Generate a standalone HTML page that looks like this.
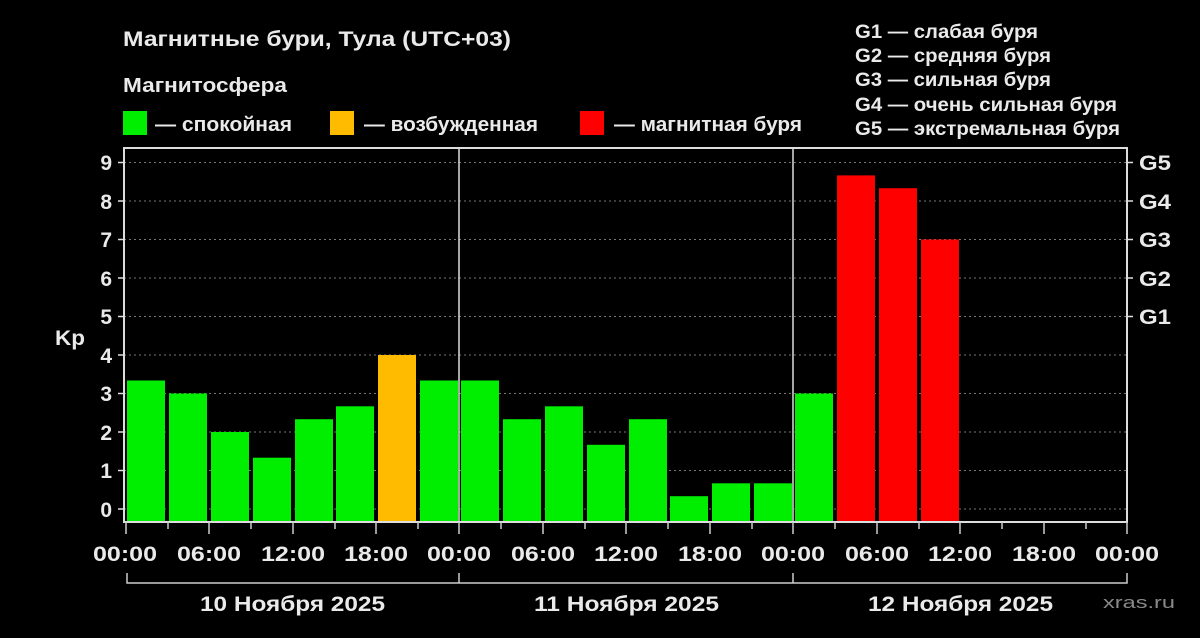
<!DOCTYPE html>
<html><head><meta charset="utf-8"><style>
html,body{margin:0;padding:0;background:#000;}
svg{display:block}
text{font-family:"Liberation Sans",Arial,sans-serif;font-weight:bold;fill:#eaeaea}
</style></head><body>
<svg width="1200" height="638" viewBox="0 0 1200 638">
<rect width="1200" height="638" fill="#000"/>
<text x="123" y="46" font-size="21" textLength="388" lengthAdjust="spacingAndGlyphs">Магнитные бури, Тула (UTC+03)</text>
<text x="123" y="92" font-size="20" textLength="164" lengthAdjust="spacingAndGlyphs">Магнитосфера</text>
<rect x="123" y="111" width="24" height="24" fill="#00ee00"/>
<text x="155" y="131" font-size="20" textLength="137" lengthAdjust="spacingAndGlyphs">— спокойная</text>
<rect x="330" y="111" width="24" height="24" fill="#ffbb00"/>
<text x="364" y="131" font-size="20" textLength="174" lengthAdjust="spacingAndGlyphs">— возбужденная</text>
<rect x="580" y="111" width="24" height="24" fill="#ff0000"/>
<text x="614" y="131" font-size="20" textLength="188" lengthAdjust="spacingAndGlyphs">— магнитная буря</text>
<g font-size="19">
<text x="855" y="38" textLength="183" lengthAdjust="spacingAndGlyphs">G1 — слабая буря</text>
<text x="855" y="62" textLength="196" lengthAdjust="spacingAndGlyphs">G2 — средняя буря</text>
<text x="855" y="86" textLength="196" lengthAdjust="spacingAndGlyphs">G3 — сильная буря</text>
<text x="855" y="111" textLength="262" lengthAdjust="spacingAndGlyphs">G4 — очень сильная буря</text>
<text x="855" y="135" textLength="265" lengthAdjust="spacingAndGlyphs">G5 — экстремальная буря</text>
</g>
<g stroke="#777" stroke-width="1" stroke-dasharray="2,3">
<line x1="124" x2="1127" y1="162.5" y2="162.5"/>
<line x1="124" x2="1127" y1="201" y2="201"/>
<line x1="124" x2="1127" y1="239.5" y2="239.5"/>
<line x1="124" x2="1127" y1="278" y2="278"/>
<line x1="124" x2="1127" y1="316.5" y2="316.5"/>
<line x1="124" x2="1127" y1="355" y2="355"/>
<line x1="124" x2="1127" y1="393.5" y2="393.5"/>
<line x1="124" x2="1127" y1="432" y2="432"/>
<line x1="124" x2="1127" y1="470.5" y2="470.5"/>
<line x1="124" x2="1127" y1="509" y2="509"/>
</g>
<g>
<rect x="127" y="380.5" width="38" height="141.5" fill="#00ee00"/>
<rect x="169" y="393.5" width="38" height="128.5" fill="#00ee00"/>
<rect x="211" y="432" width="38" height="90" fill="#00ee00"/>
<rect x="253" y="457.7" width="38" height="64.3" fill="#00ee00"/>
<rect x="295" y="419.2" width="38" height="102.8" fill="#00ee00"/>
<rect x="336" y="406.3" width="38" height="115.7" fill="#00ee00"/>
<rect x="378" y="355" width="38" height="167" fill="#ffbb00"/>
<rect x="420" y="380.5" width="38" height="141.5" fill="#00ee00"/>
<rect x="461" y="380.5" width="38" height="141.5" fill="#00ee00"/>
<rect x="503" y="419.2" width="38" height="102.8" fill="#00ee00"/>
<rect x="545" y="406.3" width="38" height="115.7" fill="#00ee00"/>
<rect x="587" y="444.8" width="38" height="77.2" fill="#00ee00"/>
<rect x="629" y="419.2" width="38" height="102.8" fill="#00ee00"/>
<rect x="670" y="496.2" width="38" height="25.8" fill="#00ee00"/>
<rect x="712" y="483.3" width="38" height="38.7" fill="#00ee00"/>
<rect x="754" y="483.3" width="38" height="38.7" fill="#00ee00"/>
<rect x="795" y="393.5" width="38" height="128.5" fill="#00ee00"/>
<rect x="837" y="175.4" width="38" height="346.6" fill="#ff0000"/>
<rect x="879" y="188.2" width="38" height="333.8" fill="#ff0000"/>
<rect x="921" y="239.5" width="38" height="282.5" fill="#ff0000"/>
</g>
<g stroke="#ddd" stroke-width="2" fill="none">
<rect x="124" y="148" width="1003" height="374"/>
<line x1="459" y1="148" x2="459" y2="522" stroke-width="1.5"/>
<line x1="793" y1="148" x2="793" y2="522" stroke-width="1.5"/>
</g>
<g stroke="#ddd" stroke-width="1.5">
<line x1="118" x2="124" y1="162.5" y2="162.5"/><line x1="118" x2="124" y1="201" y2="201"/>
<line x1="118" x2="124" y1="239.5" y2="239.5"/><line x1="118" x2="124" y1="278" y2="278"/>
<line x1="118" x2="124" y1="316.5" y2="316.5"/><line x1="118" x2="124" y1="355" y2="355"/>
<line x1="118" x2="124" y1="393.5" y2="393.5"/><line x1="118" x2="124" y1="432" y2="432"/>
<line x1="118" x2="124" y1="470.5" y2="470.5"/><line x1="118" x2="124" y1="509" y2="509"/>
<line x1="1127" x2="1133" y1="162.5" y2="162.5"/><line x1="1127" x2="1133" y1="201" y2="201"/>
<line x1="1127" x2="1133" y1="239.5" y2="239.5"/><line x1="1127" x2="1133" y1="278" y2="278"/>
<line x1="1127" x2="1133" y1="316.5" y2="316.5"/>
</g>
<g font-size="21" text-anchor="end">
<text x="112" y="170">9</text><text x="112" y="209">8</text><text x="112" y="247">7</text>
<text x="112" y="286">6</text><text x="112" y="324">5</text><text x="112" y="363">4</text>
<text x="112" y="401">3</text><text x="112" y="440">2</text><text x="112" y="478">1</text>
<text x="112" y="517">0</text>
</g>
<text x="55" y="345" font-size="21" textLength="30" lengthAdjust="spacingAndGlyphs">Kp</text>
<g font-size="21">
<text x="1139" y="170" textLength="32" lengthAdjust="spacingAndGlyphs">G5</text>
<text x="1139" y="209" textLength="32" lengthAdjust="spacingAndGlyphs">G4</text>
<text x="1139" y="247" textLength="32" lengthAdjust="spacingAndGlyphs">G3</text>
<text x="1139" y="286" textLength="32" lengthAdjust="spacingAndGlyphs">G2</text>
<text x="1139" y="324" textLength="32" lengthAdjust="spacingAndGlyphs">G1</text>
</g>
<g stroke="#ccc" stroke-width="1.5">
<line x1="126" x2="126" y1="522" y2="534"/><line x1="168" x2="168" y1="522" y2="529"/>
<line x1="209" x2="209" y1="522" y2="534"/><line x1="251" x2="251" y1="522" y2="529"/>
<line x1="293" x2="293" y1="522" y2="534"/><line x1="335" x2="335" y1="522" y2="529"/>
<line x1="376" x2="376" y1="522" y2="534"/><line x1="418" x2="418" y1="522" y2="529"/>
<line x1="459" x2="459" y1="522" y2="534"/><line x1="501" x2="501" y1="522" y2="529"/>
<line x1="543" x2="543" y1="522" y2="534"/><line x1="585" x2="585" y1="522" y2="529"/>
<line x1="626" x2="626" y1="522" y2="534"/><line x1="668" x2="668" y1="522" y2="529"/>
<line x1="710" x2="710" y1="522" y2="534"/><line x1="752" x2="752" y1="522" y2="529"/>
<line x1="793" x2="793" y1="522" y2="534"/><line x1="835" x2="835" y1="522" y2="529"/>
<line x1="877" x2="877" y1="522" y2="534"/><line x1="919" x2="919" y1="522" y2="529"/>
<line x1="960" x2="960" y1="522" y2="534"/><line x1="1002" x2="1002" y1="522" y2="529"/>
<line x1="1044" x2="1044" y1="522" y2="534"/><line x1="1086" x2="1086" y1="522" y2="529"/>
<line x1="1127" x2="1127" y1="522" y2="534"/>
<polyline fill="none" points="127,573 127,583 1127,583 1127,573"/>
<line x1="459" x2="459" y1="573" y2="583"/><line x1="793" x2="793" y1="573" y2="583"/>
</g>
<g font-size="21">
<text x="93" y="561" textLength="64" lengthAdjust="spacingAndGlyphs">00:00</text>
<text x="177" y="561" textLength="64" lengthAdjust="spacingAndGlyphs">06:00</text>
<text x="261" y="561" textLength="64" lengthAdjust="spacingAndGlyphs">12:00</text>
<text x="344" y="561" textLength="64" lengthAdjust="spacingAndGlyphs">18:00</text>
<text x="427" y="561" textLength="64" lengthAdjust="spacingAndGlyphs">00:00</text>
<text x="511" y="561" textLength="64" lengthAdjust="spacingAndGlyphs">06:00</text>
<text x="594" y="561" textLength="64" lengthAdjust="spacingAndGlyphs">12:00</text>
<text x="678" y="561" textLength="64" lengthAdjust="spacingAndGlyphs">18:00</text>
<text x="761" y="561" textLength="64" lengthAdjust="spacingAndGlyphs">00:00</text>
<text x="845" y="561" textLength="64" lengthAdjust="spacingAndGlyphs">06:00</text>
<text x="928" y="561" textLength="64" lengthAdjust="spacingAndGlyphs">12:00</text>
<text x="1012" y="561" textLength="64" lengthAdjust="spacingAndGlyphs">18:00</text>
<text x="1095" y="561" textLength="64" lengthAdjust="spacingAndGlyphs">00:00</text>
<text x="200" y="611" textLength="185" lengthAdjust="spacingAndGlyphs">10 Ноября 2025</text>
<text x="534" y="611" textLength="185" lengthAdjust="spacingAndGlyphs">11 Ноября 2025</text>
<text x="868" y="611" textLength="185" lengthAdjust="spacingAndGlyphs">12 Ноября 2025</text>
</g>
<text x="1103" y="608" font-size="17" style="fill:#8a8a8a;font-weight:normal" textLength="72" lengthAdjust="spacingAndGlyphs">xras.ru</text>
</svg>
</body></html>
